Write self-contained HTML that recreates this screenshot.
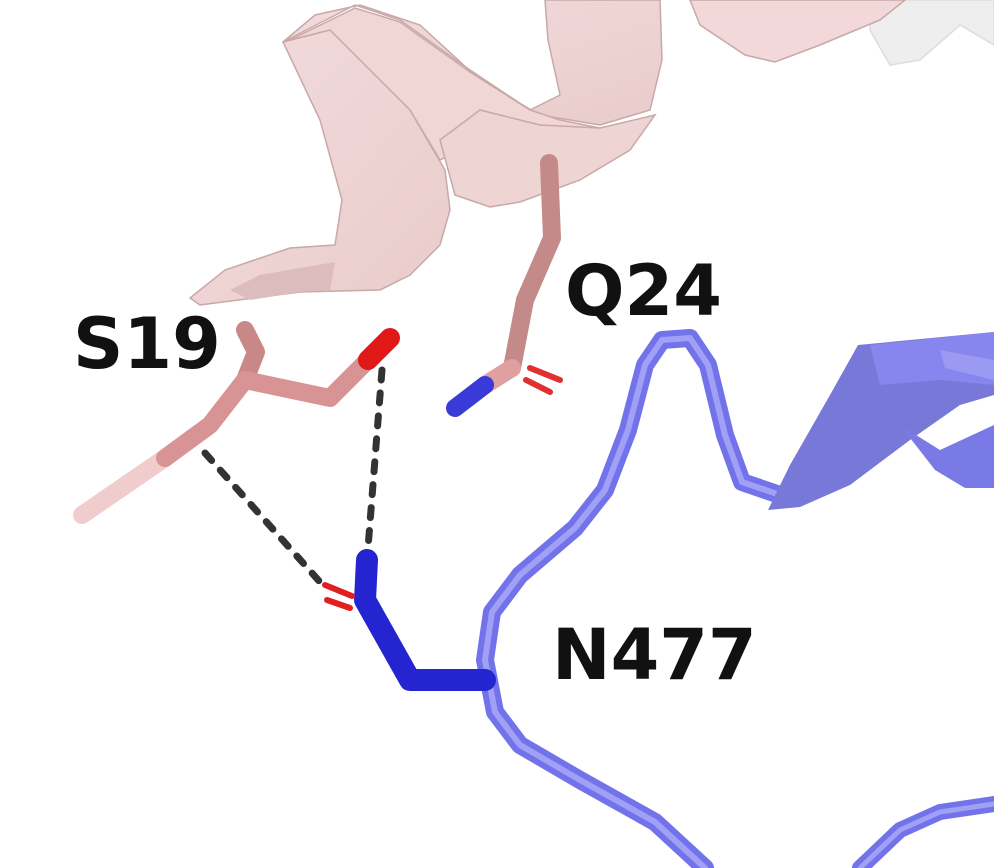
<!DOCTYPE html>
<html>
<head>
<meta charset="utf-8">
<style>
html,body{margin:0;padding:0;background:#fff;}
svg{display:block;}
text{font-family:"DejaVu Sans","Liberation Sans",sans-serif;font-weight:bold;fill:#111;}
</style>
</head>
<body>
<svg width="994" height="868" viewBox="0 0 994 868">
  <defs>
    <linearGradient id="pinkg" x1="0" y1="0" x2="1" y2="1">
      <stop offset="0" stop-color="#f3dcdc"/>
      <stop offset="1" stop-color="#e9cccc"/>
    </linearGradient>
  </defs>
  <g stroke="#c8a8a8" stroke-width="1.5">
    <path d="M870,0 L994,0 L994,45 L960,25 L920,60 L890,65 L870,30 Z" fill="#eeeeee" stroke="#dddddd"/>
    <path d="M690,0 L905,0 L880,20 L820,45 L775,62 L745,55 L700,25 Z" fill="#f2d8d8"/>
    <path d="M283,42 L315,15 L360,5 L420,25 L480,80 L540,115 L600,125 L650,110 L662,60 L660,0 L545,0 L548,40 L560,95 L530,110 L470,70 L400,20 L355,5 Z" fill="url(#pinkg)"/>
    <path d="M290,40 L355,8 L400,22 L470,72 L530,110 L560,120 L600,128 L480,140 L440,160 L410,110 Z" fill="#f1d6d6"/>
    <path d="M283,42 L330,30 L360,60 L410,110 L445,170 L450,210 L440,245 L410,275 L380,290 L300,292 L200,305 L190,298 L225,270 L290,248 L335,245 L342,200 L320,120 Z" fill="url(#pinkg)"/>
    <path d="M440,140 L480,110 L540,125 L600,128 L655,115 L630,150 L580,180 L520,202 L490,207 L455,195 Z" fill="#efd4d4"/>
    <path d="M230,290 L260,275 L300,268 L335,262 L330,290 L300,292 L250,300 Z" fill="#dcbcbc" stroke="none"/>
  </g>
  <g fill="none" stroke-linecap="round" stroke-linejoin="round">
    <path d="M705,868 L655,822 L580,780 L520,745 L495,712 L485,660 L492,612 L520,575 L575,528 L605,490 L628,430 L645,365 L662,340 L690,338 L708,365 L725,435 L742,482 L780,495" stroke="#7272ea" stroke-width="18"/>
    <path d="M705,868 L655,822 L580,780 L520,745 L495,712 L485,660 L492,612 L520,575 L575,528 L605,490 L628,430 L645,365 L662,340 L690,338 L708,365 L725,435 L742,482 L780,495" stroke="#a0a0f6" stroke-width="6"/>
    <path d="M860,868 L900,830 L940,812 L994,804" stroke="#7272ea" stroke-width="16"/>
    <path d="M860,868 L900,830 L940,812 L994,804" stroke="#a0a0f6" stroke-width="5"/>
  </g>
  <g>
    <path d="M768,510 L800,507 L850,485 L910,440 L960,405 L994,395 L994,332 L858,345 L830,395 L790,465 Z" fill="#7878d8"/>
    <path d="M870,345 L994,332 L994,385 L940,380 L880,385 Z" fill="#8686ee"/>
    <path d="M900,425 L940,450 L994,425 L994,488 L965,488 L935,470 Z" fill="#7a7ae6"/>
    <path d="M940,350 L994,360 L994,380 L945,368 Z" fill="#9a9af2"/>
  </g>
  <g stroke="#333" stroke-width="7" stroke-dasharray="10,13" stroke-linecap="round" fill="none">
    <path d="M205,453 L320,582"/>
    <path d="M382,370 L368,548"/>
  </g>
  <g stroke-linecap="round" stroke-linejoin="round" fill="none">
    <path d="M82,515 L165,458" stroke="#f0cccc" stroke-width="18"/>
    <path d="M165,458 L210,425 L245,380" stroke="#d89494" stroke-width="18"/>
    <path d="M245,330 L256,352 L245,380" stroke="#c88888" stroke-width="18"/>
    <path d="M245,380 L330,398 L368,360" stroke="#d89494" stroke-width="18"/>
    <path d="M368,360 L390,338" stroke="#e01818" stroke-width="20"/>
  </g>
  <g stroke-linecap="round" stroke-linejoin="round" fill="none">
    <path d="M549,163 L552,238 L525,300 L512,368" stroke="#c48a8a" stroke-width="18"/>
    <path d="M512,368 L485,385" stroke="#e0a0a0" stroke-width="18"/>
    <path d="M485,385 L455,408" stroke="#3a3ad8" stroke-width="18"/>
    <path d="M530,368 L560,380 M526,380 L550,392" stroke="#e03030" stroke-width="6"/>
  </g>
  <g stroke-linecap="round" stroke-linejoin="round" fill="none">
    <path d="M367,560 L365,600 L410,680 L485,680" stroke="#2424d0" stroke-width="22"/>
    <path d="M325,585 L352,596 M327,600 L350,608" stroke="#e02020" stroke-width="6"/>
  </g>
  <text x="73" y="368" font-size="70">S19</text>
  <text x="565" y="315" font-size="70">Q24</text>
  <text x="552" y="679" font-size="70">N477</text>
</svg>
</body>
</html>
